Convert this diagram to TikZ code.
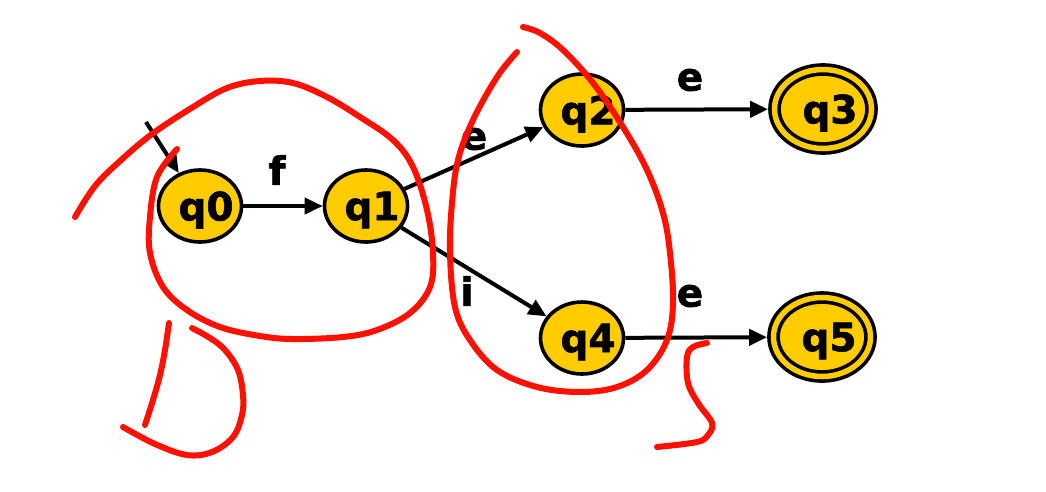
\documentclass[tikz,border=0pt]{standalone}
\usepackage{fontspec}
\setmainfont{DejaVu Sans}[BoldFeatures={FakeBold=1.5}]
\usetikzlibrary{shapes.geometric,arrows.meta}
\definecolor{stfill}{HTML}{FFCC00}
\definecolor{penred}{HTML}{FF1000}
\begin{document}
\begin{tikzpicture}[x=1pt,y=-1pt,
  state/.style={ellipse, draw=black, fill=stfill, line width=3.6pt, minimum width=83pt, minimum height=72pt, inner sep=0pt},
  accept/.style={state, double=stfill, double distance=5.5pt, minimum width=97pt, minimum height=79pt, outer sep=6.4pt},
  lbl/.style={font=\fontsize{39}{39}\selectfont\bfseries, inner sep=0pt},
  arr/.style={line width=4pt, -{Triangle[length=18pt,width=16pt]}},
  pen/.style={draw=penred, line width=6pt, line cap=round, line join=round}]
\useasboundingbox (0,0) rectangle (1046,491);
\fill[white] (0,0) rectangle (1046,491);

\node[state]  (q0) at (200,206) {};
\node[state]  (q1) at (366,206) {};
\node[state]  (q2) at (582,110) {};
\node[state]  (q4) at (582,338) {};
\node[accept] (q3) at (823,109) {};
\node[accept] (q5) at (822,337) {};

\node[lbl, xshift=6pt, yshift=-4pt] (t0) at (q0) {q0};
\node[lbl, xshift=6pt, yshift=-4pt] (t1) at (q1) {q1};
\node[lbl, xshift=6pt, yshift=-4pt] (t2) at (q2) {q2};
\node[lbl, xshift=6pt, yshift=-4pt] (t4) at (q4) {q4};
\node[lbl, xshift=7pt, yshift=-4pt] (t3) at (q3) {q3};
\node[lbl, xshift=7pt, yshift=-4pt] (t5) at (q5) {q5};

\coordinate (init) at (146,122);
\draw[arr] (init) -- (q0);
\draw[arr] (q0) -- (q1);
\draw[arr] (q1) -- (q2);
\draw[arr] (q1) -- (q4);
\draw[arr] (q2) -- (q3);
\draw[arr] (q4) -- (q5);

\node[lbl] (lf)  at (277,170) {f};
\node[lbl] (le1) at (474,139) {e};
\node[lbl] (li)  at (467,291) {i};
\node[lbl] (le2) at (690,80) {e};
\node[lbl] (le3) at (690,296) {e};

% red annotations
\draw[pen] plot[smooth, tension=0.6] coordinates {(75,217) (95,186) (120,161) (152,134) (193,107) (227,88) (260,81) (293,83) (327,97) (360,117) (393,140) (413,167) (427,210) (433,253) (430,287) (410,313) (377,330) (343,337) (293,339) (260,336) (220,327) (187,310) (163,287) (150,253) (150,217) (157,177) (177,149)};
\draw[pen] plot[smooth, tension=0.6] coordinates {(169,323) (165,350) (160,375) (153,400) (145,425)};
\draw[pen] plot[smooth, tension=0.6] coordinates {(192,328) (210,338) (225,350) (238,370) (243,395) (242,415) (233,437) (212,452) (187,455) (155,444) (123,427)};
\draw[pen] plot[smooth, tension=0.6] coordinates {(517,52) (497,77) (473,120) (458,160) (452,203) (450,253) (455,307) (470,340) (497,370) (537,387) (580,392) (617,387) (647,370) (667,340) (673,303) (670,253) (663,213) (647,170) (623,127) (593,83) (563,50) (540,33) (523,27)};
\draw[pen] plot[smooth, tension=0.6] coordinates {(707,343) (693,347) (687,357) (688,383) (698,403) (712,423) (708,435) (697,442) (657,447)};
\end{tikzpicture}
\end{document}
